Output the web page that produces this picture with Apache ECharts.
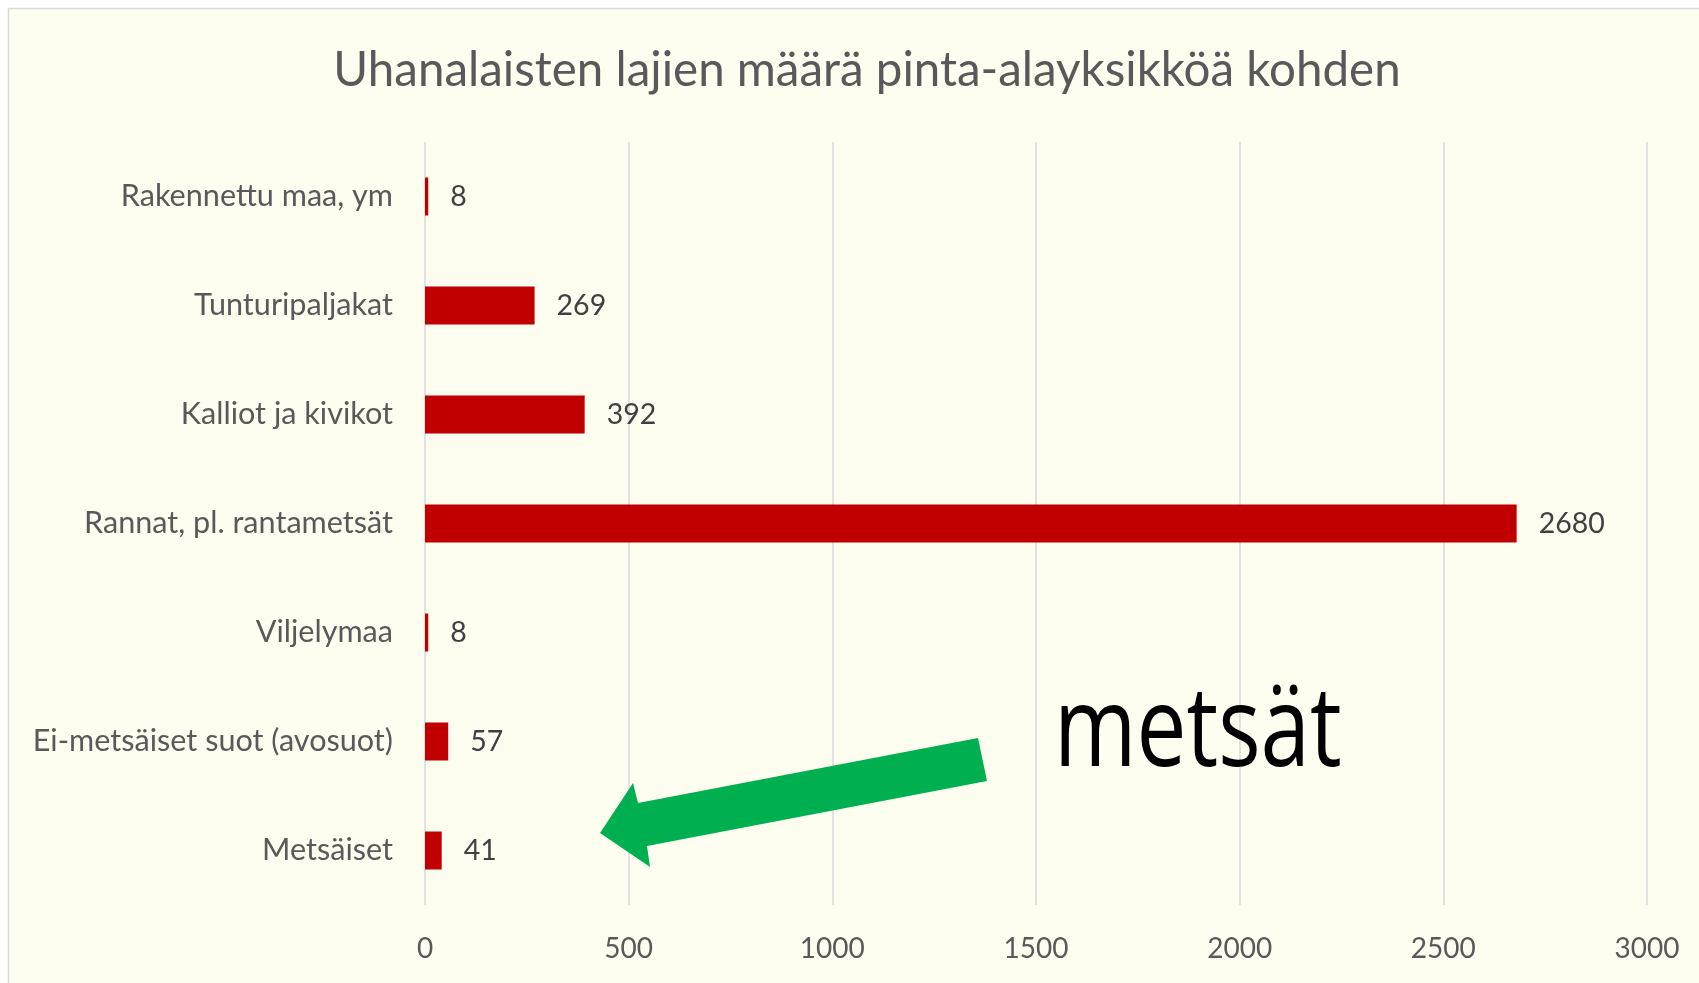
<!DOCTYPE html>
<html>
<head>
<meta charset="utf-8">
<script src="https://cdn.jsdelivr.net/npm/echarts@6/dist/echarts.min.js"></script>
<style>
html,body{margin:0;padding:0;background:#ffffff;}
#chart{width:1699px;height:983px;}
</style>
</head>
<body>
<div id="chart"></div>
<script>
const titleText = 'Uhanalaisten lajien määrä pinta-alayksikköä kohden';
const categories = [
  'Rakennettu maa, ym',
  'Tunturipaljakat',
  'Kalliot ja kivikot',
  'Rannat, pl. rantametsät',
  'Viljelymaa',
  'Ei-metsäiset suot (avosuot)',
  'Metsäiset'
];
const values = [8, 269, 392, 2680, 8, 57, 41];
const xTicks = [0, 500, 1000, 1500, 2000, 2500, 3000];
const annotationText = 'metsät';

const chart = echarts.init(document.getElementById('chart'), null, {renderer: 'canvas'});
const labelFont = 'Lato';
chart.setOption({
  backgroundColor: '#ffffff',
  animation: false,
  title: {
    text: titleText,
    left: 862,
    textAlign: 'center',
    top: 42,
    textStyle: {fontFamily: labelFont, fontSize: 47.5, fontWeight: 'normal', color: '#595959'}
  },
  grid: {left: 425, right: 52, top: 142, bottom: 78, containLabel: false},
  xAxis: {
    type: 'value',
    min: xTicks[0],
    max: xTicks[xTicks.length - 1],
    interval: xTicks[1] - xTicks[0],
    axisLine: {show: false},
    axisTick: {show: false},
    splitLine: {show: true, lineStyle: {color: '#D9D9D9', width: 1.5}},
    axisLabel: {fontFamily: labelFont, fontSize: 28, color: '#595959', margin: 30,
      formatter: function (v) { return String(v); }}
  },
  yAxis: {
    type: 'category',
    data: categories,
    inverse: true,
    axisLine: {show: false},
    axisTick: {show: false},
    axisLabel: {fontFamily: labelFont, fontSize: 30.6, color: '#595959', margin: 32, padding: [8, 0, 0, 0]}
  },
  series: [{
    type: 'bar',
    data: values,
    barWidth: 38,
    itemStyle: {color: '#C00000'},
    label: {show: true, position: 'right', distance: 22, fontFamily: labelFont, fontSize: 28.5, color: '#404040', padding: [8, 0, 0, 0]}
  }],
  graphic: [
    {
      type: 'rect', z: -10, silent: true,
      shape: {x: 8.5, y: 8.5, width: 1760, height: 1060},
      style: {fill: '#FEFEF0', stroke: '#D9D9D9', lineWidth: 1.5}
    },
    {
      type: 'polygon', z: 10, silent: true,
      shape: {points: [[978, 738], [987, 781], [647, 846], [650, 867], [600, 833], [633, 783], [638, 803]]},
      style: {fill: '#00B050'}
    },
    {
      type: 'text', z: 10, silent: true,
      x: 1054, y: 734, scaleX: 0.795, scaleY: 1,
      style: {text: annotationText, fontFamily: 'Open Sans', fontSize: 112, fill: '#000000', align: 'left', verticalAlign: 'middle'}
    }
  ]
});
</script>
</body>
</html>
